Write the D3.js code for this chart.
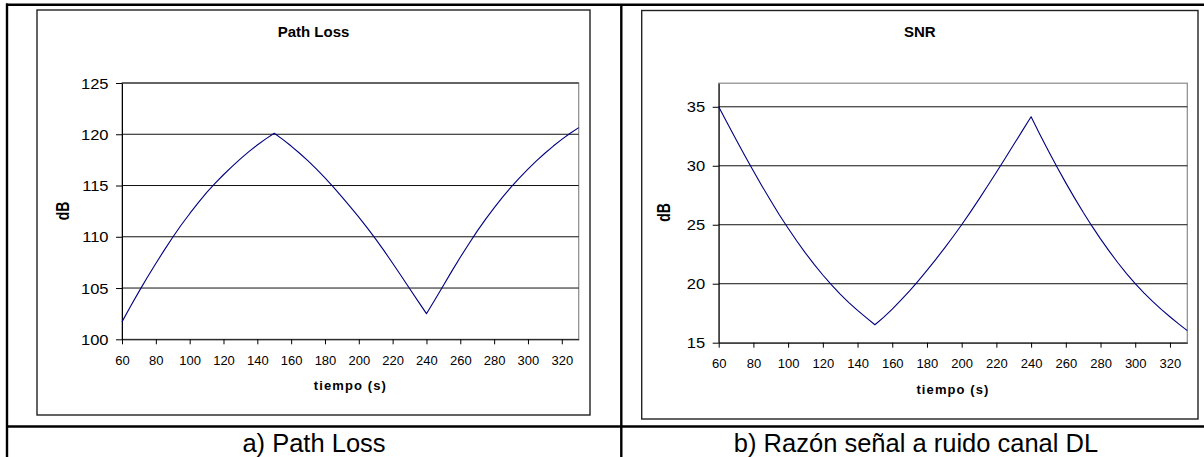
<!DOCTYPE html>
<html><head><meta charset="utf-8">
<script src="https://cdn.jsdelivr.net/npm/d3@7"></script>
<style>
body{margin:0;background:#fff}
svg{display:block}
text{font-family:"Liberation Sans",Arial,sans-serif;fill:#000}
</style>
</head><body>
<svg id="c" width="1204" height="457"></svg>
<script>
// ---- data ----
const time = [60,65,70,75,80,85,90,95,100,105,110,115,120,125,130,135,140,145,150,155,160,165,170,175,180,185,190,195,200,205,210,215,220,225,230,235,240,245,250,255,260,265,270,275,280,285,290,295,300,305,310,315,320,325,330];
const pathLoss = [101.7,103.2,104.65,106.05,107.4,108.7,109.95,111.15,112.25,113.3,114.3,115.2,116.05,116.85,117.6,118.3,118.95,119.55,120.1,119.5,118.85,118.15,117.4,116.6,115.75,114.85,113.9,112.92,111.92,110.87,109.77,108.62,107.42,106.2,104.96,103.72,102.5,103.85,105.25,106.65,108.0,109.3,110.55,111.72,112.82,113.87,114.85,115.75,116.6,117.4,118.15,118.85,119.5,120.1,120.65];
const snr = [35.0,33.6,32.22,30.87,29.55,28.27,27.03,25.83,24.7,23.62,22.6,21.64,20.74,19.9,19.12,18.4,17.74,17.12,16.52,17.15,17.85,18.6,19.4,20.25,21.13,22.05,23.0,23.98,25.0,26.07,27.17,28.3,29.45,30.62,31.8,32.98,34.15,32.68,31.25,29.87,28.55,27.28,26.06,24.9,23.8,22.76,21.78,20.86,20.0,19.22,18.5,17.82,17.2,16.6,16.02];
const xTicks = [60,80,100,120,140,160,180,200,220,240,260,280,300,320];
const plTicks = [100,105,110,115,120,125];
const snrTicks = [15,20,25,30,35];
const xDomain = [60,330];
const plDomain = [100,125];
const snrDomain = [15,37];
const titles = ["Path Loss","SNR"];
const captions = ["a) Path Loss","b) Razón señal a ruido canal DL"];
const yLabel = "dB";
const xLabel = "tiempo (s)";

// ---- drawing ----
const svg = d3.select("#c");

// table grid
const tl = svg.append("g").attr("stroke","#000").attr("stroke-width",2.4);
tl.append("line").attr("x1",7).attr("y1",3.5).attr("x2",7).attr("y2",457);
tl.append("line").attr("x1",6).attr("y1",4.7).attr("x2",1204).attr("y2",4.7);
tl.append("line").attr("x1",621.3).attr("y1",4).attr("x2",621.3).attr("y2",457);
tl.append("line").attr("x1",6).attr("y1",426.5).attr("x2",1204).attr("y2",426.5);

function chart(o){
  const g = svg.append("g");
  g.append("rect").attr("x",o.box[0]).attr("y",o.box[1])
    .attr("width",o.box[2]-o.box[0]).attr("height",o.box[3]-o.box[1])
    .attr("fill","none").attr("stroke","#222").attr("stroke-width",1.4);

  const x = d3.scaleLinear().domain(xDomain).range([o.px0,o.px1]);
  const y = d3.scaleLinear().domain(o.ydom).range([o.pyB,o.pyT]);

  // plot border
  g.append("rect").attr("x",o.px0).attr("y",o.pyT).attr("width",o.px1-o.px0).attr("height",o.pyB-o.pyT)
    .attr("fill","none").attr("stroke","#8a8a8a").attr("stroke-width",1.2);

  // gridlines
  g.append("g").selectAll("line").data(o.ticks.filter(v=>v>o.ydom[0])).join("line")
    .attr("x1",o.px0).attr("x2",o.px1).attr("y1",d=>y(d)).attr("y2",d=>y(d))
    .attr("stroke","#111").attr("stroke-width",1);

  // y axis
  const ya = g.append("g").attr("transform",`translate(${o.px0},0)`)
    .call(d3.axisLeft(y).tickValues(o.ticks).tickSize(6).tickPadding(7.5).tickSizeOuter(0));
  ya.select(".domain").attr("stroke","#000");
  ya.selectAll(".tick line").attr("stroke","#000");
  const sx = 1.18, gap = 13.5;
  ya.selectAll(".tick text").attr("font-size",14).attr("font-family","Liberation Sans, Arial, sans-serif")
    .attr("x",-gap/sx).attr("transform",`scale(${sx},1)`).attr("dy","0.36em");

  // x axis
  const xa = g.append("g").attr("transform",`translate(0,${o.pyB})`)
    .call(d3.axisBottom(x).tickValues(xTicks).tickSize(5).tickPadding(11.5).tickSizeOuter(0));
  xa.select(".domain").attr("stroke","#000");
  xa.selectAll(".tick line").attr("stroke","#000");
  xa.selectAll(".tick text").attr("font-size",13).attr("font-family","Liberation Sans, Arial, sans-serif");

  // series line
  const line = d3.line().x((d,i)=>x(time[i])).y(d=>y(d));
  g.append("path").datum(o.values).attr("d",line)
    .attr("fill","none").attr("stroke","#000080").attr("stroke-width",1.1).attr("stroke-linejoin","round");

  // title
  g.append("text").attr("x",(o.box[0]+o.box[2])/2).attr("y",o.titleY).attr("text-anchor","middle")
    .attr("font-size",15).attr("font-weight","bold").text(o.title);

  // y label
  g.append("text").attr("transform",`translate(${o.ylx},${o.yly}) scale(1.3,1) rotate(-90)`)
    .attr("text-anchor","middle").attr("dy","0.36em").attr("font-size",14).attr("font-weight","bold").text(yLabel);

  // x label
  g.append("text").attr("x",(o.px0+o.px1)/2).attr("y",o.xlY).attr("text-anchor","middle")
    .attr("font-size",13).attr("font-weight","bold").attr("letter-spacing","1.1px").text(xLabel);

  // caption
  svg.append("text").attr("x",o.capX).attr("y",451.5).attr("text-anchor","middle")
    .attr("font-size",25.5).text(o.caption);
}

chart({box:[37,10,590,415], px0:122, px1:578.7, pyT:83, pyB:339.3, ydom:plDomain, ticks:plTicks,
       values:pathLoss, title:titles[0], titleY:37.3, ylx:62.5, yly:211, xlY:390, caption:captions[0], capX:314});
chart({box:[641.7,10.5,1198,419], px0:718.7, px1:1187.3, pyT:83.2, pyB:342.7, ydom:snrDomain, ticks:snrTicks,
       values:snr, title:titles[1], titleY:37.3, ylx:663.5, yly:212.5, xlY:394, caption:captions[1], capX:916});
</script>
</body></html>
